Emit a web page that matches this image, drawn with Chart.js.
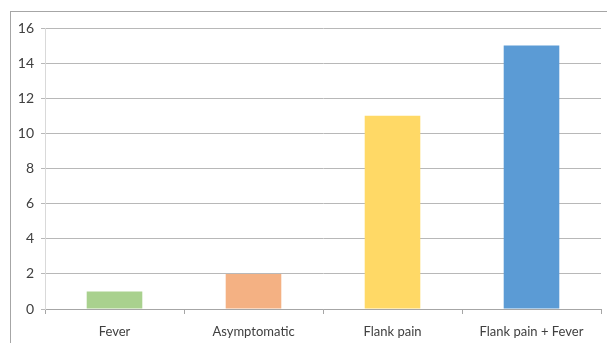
<!DOCTYPE html>
<html>
<head>
<meta charset="utf-8">
<script src="https://cdn.jsdelivr.net/npm/chart.js@4"></script>
<style>
  body { margin: 0; background: #fff; }
  #frame { position: absolute; left: 10px; top: 11px; width: 620px; height: 360px;
           border-top: 1px solid #a6a6a6; border-left: 1px solid #a6a6a6; }
  #wrap { position: absolute; left: 0; top: 0; width: 607px; height: 343px; }
</style>
</head>
<body>
<div id="frame"></div>
<div id="wrap"><canvas id="symptom-chart"></canvas></div>
<script>
const categories = ['Fever', 'Asymptomatic', 'Flank pain', 'Flank pain + Fever'];
const patients = [1, 2, 11, 15];
const barColors = ['#a9d18e', '#f4b183', '#ffd966', '#5b9bd5'];

const ctx = document.getElementById('symptom-chart').getContext('2d');
const symptomChart = new Chart(ctx, {
  type: 'bar',
  data: {
    labels: categories,
    datasets: [{
      data: patients,
      backgroundColor: barColors,
      borderWidth: 0,
      categoryPercentage: 1,
      barPercentage: 0.4
    }]
  },
  options: {
    responsive: true,
    maintainAspectRatio: false,
    animation: false,
    layout: { padding: { top: 28, right: 6, left: 0, bottom: 0 } },
    plugins: {
      legend: { display: false },
      tooltip: { enabled: false }
    },
    scales: {
      x: {
        grid: { drawOnChartArea: false, drawTicks: true, tickLength: 5, color: '#a6a6a6' },
        border: { color: '#a6a6a6' },
        ticks: { color: '#404040', font: { family: 'Lato', size: 13 }, padding: 10 },
        afterFit: (scale) => { scale.height = 34; }
      },
      y: {
        min: 0,
        max: 16,
        grid: { color: '#b8b8b8', tickLength: 4 },
        border: { color: '#d9d9d9' },
        ticks: { stepSize: 2, color: '#404040', font: { family: 'Lato', size: 14 }, padding: 7 },
        afterFit: (scale) => { scale.width = 45; }
      }
    }
  }
});
</script>
</body>
</html>
